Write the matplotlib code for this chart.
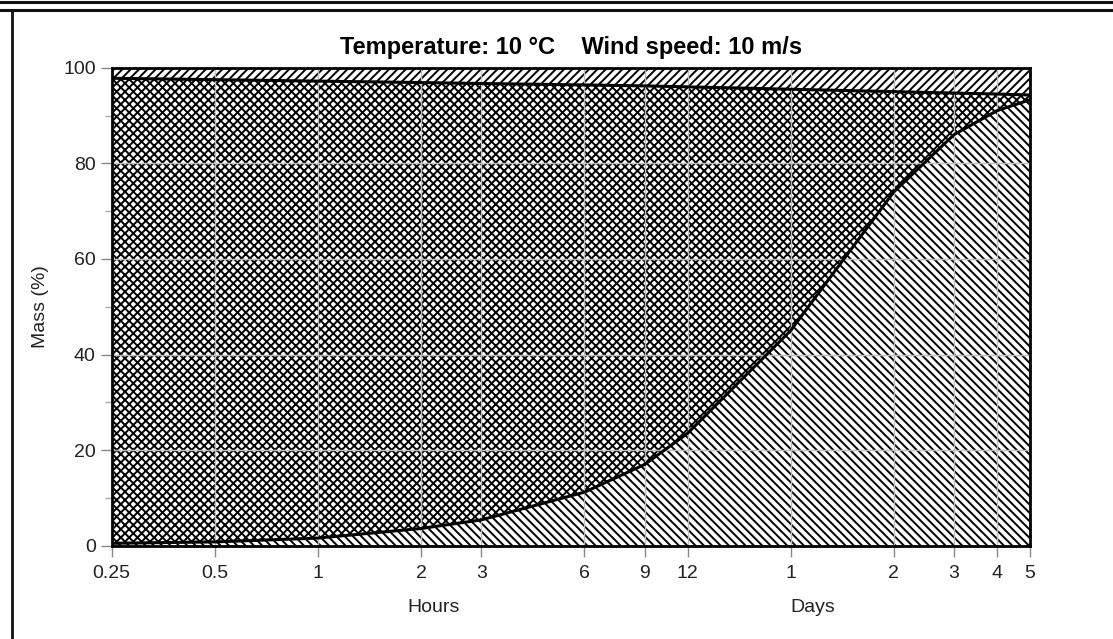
import matplotlib
matplotlib.use("Agg")
import matplotlib.pyplot as plt
from matplotlib.lines import Line2D
from matplotlib.ticker import FixedLocator, NullFormatter

plt.rcParams['font.family'] = ['Liberation Sans', 'DejaVu Sans']
plt.rcParams['hatch.color'] = 'black'
plt.rcParams['hatch.linewidth'] = 1.4

# time since release (hours) and boundaries between the mass fractions (%)
hours = [0.25, 0.5, 1, 2, 3, 6, 9, 12, 24, 48, 72, 96, 120]
lower_curve = [0.5, 0.8, 1.6, 3.6, 5.4, 11.2, 17.0, 23.5, 45.0, 74.0, 86.0, 91.0, 93.3]
upper_curve = [97.8, 97.5, 97.2, 96.9, 96.7, 96.4, 96.2, 96.0, 95.5, 95.0, 94.7, 94.5, 94.3]

tick_hours = [0.25, 0.5, 1, 2, 3, 6, 9, 12, 24, 48, 72, 96, 120]
tick_labels = ['0.25', '0.5', '1', '2', '3', '6', '9', '12', '1', '2', '3', '4', '5']
y_major = [0, 20, 40, 60, 80, 100]
y_minor = [10, 30, 50, 70, 90]

fig = plt.figure(figsize=(11.13, 6.39), dpi=100)
ax = fig.add_axes([0.1004, 0.146, 0.825, 0.748])

ax.fill_between(hours, 0, lower_curve, facecolor='white', edgecolor='black',
                hatch='\\\\\\\\', linewidth=0, zorder=1)
ax.fill_between(hours, lower_curve, upper_curve, facecolor='white', edgecolor='black',
                hatch='xxxx', linewidth=0, zorder=1)
ax.fill_between(hours, upper_curve, 100, facecolor='white', edgecolor='black',
                hatch='////', linewidth=0, zorder=1)
ax.plot(hours, lower_curve, color='black', lw=2.2, zorder=4)
ax.plot(hours, upper_curve, color='black', lw=2.2, zorder=4)

ax.set_xscale('log')
ax.set_xlim(0.25, 120)
ax.set_ylim(0, 100)
ax.xaxis.set_major_locator(FixedLocator(tick_hours))
ax.xaxis.set_minor_locator(FixedLocator([]))
ax.xaxis.set_minor_formatter(NullFormatter())
ax.set_xticklabels(tick_labels)
ax.set_yticks(y_major)
ax.set_yticks(y_minor, minor=True)

ax.grid(True, which='major', color='#bdbdbd', lw=1.0, zorder=3)
ax.set_axisbelow(False)
ax.tick_params(which='major', length=8, width=1, color='#888888',
               labelsize=14, labelcolor='#222222')
ax.tick_params(axis='x', which='major', pad=6)
ax.tick_params(which='minor', length=5, width=1, color='#aaaaaa')
for sp in ax.spines.values():
    sp.set_linewidth(2.0)
    sp.set_zorder(5)

ax.set_ylabel('Mass (%)', fontsize=14, color='#222222', labelpad=10)
ax.set_title('Temperature: 10 \u00b0C    Wind speed: 10 m/s', fontsize=17,
             fontweight='bold', pad=10)
ax.text(0.351, -0.13, 'Hours', transform=ax.transAxes, ha='center', va='center',
        fontsize=14, color='#222222')
ax.text(0.763, -0.13, 'Days', transform=ax.transAxes, ha='center', va='center',
        fontsize=14, color='#222222')

# page frame: double rule along the top and a rule down the left
for yy in (0.9975, 0.984):
    fig.add_artist(Line2D([0, 1], [yy, yy], transform=fig.transFigure,
                          color='#111111', lw=2.2))
fig.add_artist(Line2D([0.0105, 0.0105], [0, 0.984], transform=fig.transFigure,
                      color='#111111', lw=2.0))

fig.savefig('out.png', dpi=100)
